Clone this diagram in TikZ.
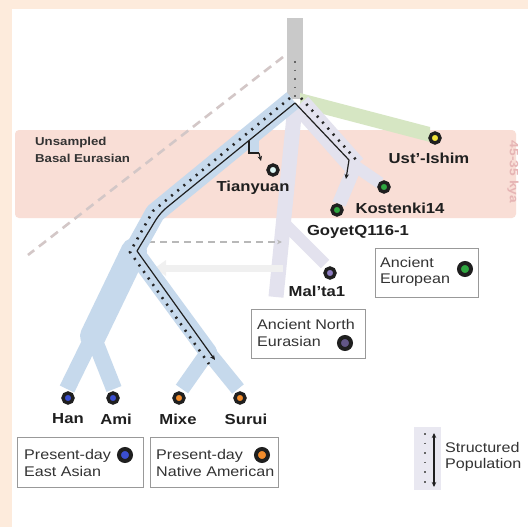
\documentclass[tikz,border=0pt]{standalone}
\usepackage{fontspec}
\setmainfont{Liberation Sans}[FakeStretch=1.15]
\usetikzlibrary{arrows.meta}
\definecolor{peach}{HTML}{FDEBDC}
\definecolor{pinkband}{HTML}{F9DED6}
\definecolor{bandblue}{HTML}{C6D9EC}
\definecolor{bandlav}{HTML}{E3E2EE}
\definecolor{bandgreen}{HTML}{D6E6C3}
\definecolor{stemgray}{HTML}{C9C9C9}
\definecolor{dashgray}{HTML}{D3C7C7}
\definecolor{pinktext}{HTML}{E6B5B5}
\definecolor{yellowc}{HTML}{F2E33A}
\definecolor{tianc}{HTML}{DDF6F4}
\definecolor{greenc}{HTML}{2FA640}
\definecolor{purplec}{HTML}{8C7BC0}
\definecolor{bluec}{HTML}{3B4FCF}
\definecolor{orangec}{HTML}{F28C2C}
\begin{document}
\begin{tikzpicture}[x=1pt,y=-1pt,
  lbl/.style={font=\bfseries\fontsize{14.5}{16}\selectfont, inner sep=0pt, text=black!88},
  leg/.style={font=\fontsize{14}{16.5}\selectfont, inner sep=0pt, align=left, anchor=west, text=black!80},
  legbox/.style={draw=black!40, line width=0.9pt},
  mk/.style={circle, draw=black!88, line width=3.4pt, minimum size=10pt, inner sep=0pt},
  bigmk/.style={circle, draw=black!88, line width=4pt, minimum size=12pt, inner sep=0pt},
  bl/.style={draw=black!88, line width=1.2pt},
  dotl/.style={draw=black!85, line width=2.6pt, dash pattern=on 2pt off 6pt},
  arr/.style={-{Stealth[length=5pt,width=4.5pt]}}]
\useasboundingbox (0,0) rectangle (528,527);
% backgrounds
\fill[peach] (0,0) rectangle (528,527);
\fill[white] (12,9) rectangle (528,527);
\fill[pinkband, rounded corners=4pt] (15,130) rectangle (516,218);
\node[rotate=-90, text=pinktext, font=\bfseries\fontsize{12}{12}\selectfont] (kya) at (513,172) {45-35 kya};
% dashed grey line
\coordinate (dg1) at (283,57);
\coordinate (dg2) at (28,255);
\draw[dashgray, line width=2.6pt, dash pattern=on 9pt off 6pt] (dg1) -- (dg2);
% stem
\fill[stemgray] (287,18) rectangle (303,99);
% green branch to Ust'-Ishim
\fill[bandgreen] (300,93) -- (430,127) -- (430,142) -- (300,108) -- cycle;
% lavender bands
\coordinate (lv0) at (300,104);
\coordinate (lv1) at (355,166);
\coordinate (lv2) at (339,204);
\coordinate (lv3) at (380,183);
\draw[bandlav, line width=22pt] (lv0) -- (lv1);
\draw[bandlav, line width=14pt] (lv1) -- (lv2);
\draw[bandlav, line width=12pt] (lv1) -- (lv3);
\coordinate (av0) at (295,106);
\coordinate (av1) at (276,297);
\draw[bandlav, line width=15pt] (av0) -- (av1);
\coordinate (mb0) at (283,222);
\coordinate (mb1) at (325,264);
\draw[bandlav, line width=12pt] (mb0) -- (mb1);
\coordinate (hb0) at (283,268);
\coordinate (hb1) at (165,268);
\draw[black!6, line width=7pt] (hb0) -- (hb1);
\fill[black!6] (166,260) -- (155,268) -- (166,276) -- cycle;
\coordinate (da0) at (148,242);
\coordinate (da1) at (282,242);
\draw[black!28, line width=1.4pt, dash pattern=on 7pt off 5pt, arr] (da0) -- (da1);
% blue bands
\coordinate (bb0) at (293,100);
\coordinate (bb1) at (155,213);
\coordinate (bbL) at (134,251);
\coordinate (bbH) at (93,336);
\coordinate (bbN) at (208,352);
\draw[bandblue, line width=20pt, line join=round] (bb0) -- (bb1) -- (bbL);
\draw[bandblue, line width=26pt, line cap=round] (bbL) -- (bbH);
\draw[bandblue, line width=18pt, line cap=round] (bbL) -- (bbN);
\coordinate (hanb) at (67,389);
\coordinate (amib) at (114,389);
\coordinate (mixb) at (182,389);
\coordinate (surb) at (238,389);
\draw[bandblue, line width=16pt] (bbH) -- (hanb);
\draw[bandblue, line width=16pt] (bbH) -- (amib);
\draw[bandblue, line width=15pt] (bbN) -- (mixb);
\draw[bandblue, line width=15pt] (bbN) -- (surb);
% Tianyuan side strip
\fill[bandblue] (248,138) rectangle (259,153);
% black lines
\coordinate (F) at (295,103);
\coordinate (P1) at (160,213);
\coordinate (L) at (137,251);
\coordinate (A1) at (215,360);
\coordinate (R) at (349,160);
\coordinate (R2) at (346,179);
\coordinate (T1) at (249,141);
\coordinate (T2) at (259,153);
\coordinate (T3) at (261,161);
\draw[bl, rounded corners=8pt] (F) -- (P1) -- (L);
\draw[bl, arr] (L) -- (A1);
\draw[bl] (F) -- (R);
\draw[bl, arr] (R) -- (R2);
\draw[bl] (T1) |- (T2);
\draw[bl, arr] (T2) -- (T3);
% dotted companions
\coordinate (d0) at (290,98);
\coordinate (d1) at (153,211);
\coordinate (dL) at (130,252);
\coordinate (d2) at (209,364);
\draw[dotl] (d0) -- (d1) -- (dL) -- (d2);
\coordinate (e0) at (301,98);
\coordinate (e1) at (358,162);
\draw[dotl] (e0) -- (e1);
\coordinate (s0) at (295,61);
\coordinate (s1) at (295,97);
\draw[draw=black!60, line width=2.2pt, dash pattern=on 1.6pt off 7pt] (s0) -- (s1);
% markers and labels
\node[mk, fill=yellowc] (ust) at (435,138) {};
\node[lbl] (ustl) at (429,158) {Ust'-Ishim};
\node[mk, fill=tianc] (tian) at (273,170) {};
\node[lbl] (tianl) at (253,188) {Tianyuan};
\node[mk, fill=greenc] (kost) at (384,187) {};
\node[lbl] (kostl) at (400,208) {Kostenki14};
\node[mk, fill=greenc] (goy) at (337,210) {};
\node[lbl] (goyl) at (358,232) {GoyetQ116-1};
\node[mk, fill=purplec] (mal) at (330,273) {};
\node[lbl] (mall) at (317,291) {Mal'ta1};
\node[mk, fill=bluec] (han) at (68,398) {};
\node[lbl] (hanl) at (68,419) {Han};
\node[mk, fill=bluec] (ami) at (113,398) {};
\node[lbl] (amil) at (116,419) {Ami};
\node[mk, fill=orangec] (mix) at (179,398) {};
\node[lbl] (mixl) at (178,419) {Mixe};
\node[mk, fill=orangec] (sur) at (240,398) {};
\node[lbl] (surl) at (246,419) {Surui};
% unsampled label
\node[font=\bfseries\fontsize{11.5}{17}\selectfont, align=left, anchor=north west, inner sep=0pt, text=black!80] (uns) at (35,137) {Unsampled\\Basal Eurasian};
% legend boxes
\draw[legbox] (375,248) rectangle (478,297);
\node[leg] (aeu) at (380,272) {Ancient\\European};
\node[bigmk, fill=greenc] (aeud) at (465,269) {};
\draw[legbox] (251,309) rectangle (365,358);
\node[leg] (ane) at (257,333) {Ancient North\\Eurasian};
\node[bigmk, fill=purplec!70!black] (aned) at (345,343) {};
\draw[legbox] (17,437) rectangle (143,487);
\node[leg] (pea) at (24,463) {Present-day\\East Asian};
\node[bigmk, fill=bluec] (pead) at (125,455) {};
\draw[legbox] (150,437) rectangle (278,487);
\node[leg] (pna) at (156,463) {Present-day\\Native American};
\node[bigmk, fill=orangec] (pnad) at (262,455) {};
% structured population legend
\fill[bandlav!80] (414,427) rectangle (441,490);
\coordinate (sp0) at (425,433);
\coordinate (sp1) at (425,487);
\draw[draw=black!60, line width=2.2pt, dash pattern=on 1.6pt off 8pt] (sp0) -- (sp1);
\coordinate (sa0) at (434,433);
\coordinate (sa1) at (434,487);
\draw[bl, {Stealth[length=5pt,width=4.5pt]}-{Stealth[length=5pt,width=4.5pt]}] (sa0) -- (sa1);
\node[leg] (spl) at (445,457) {Structured\\Population};
\end{tikzpicture}
\end{document}
